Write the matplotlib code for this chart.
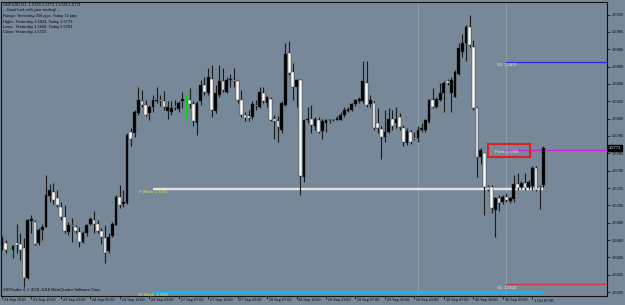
import numpy as np
import matplotlib
matplotlib.use('Agg')
import matplotlib.pyplot as plt
import matplotlib.transforms as mtransforms
from matplotlib.patches import Rectangle

# ---- data (GBPUSD H1 bars) ----
opens = [1.5658,1.5662,1.5655,1.5654,1.5662,1.5661,1.5656,1.5621,1.5687,1.5686,
         1.5662,1.5677,1.5680,1.5716,1.5720,1.5714,1.5703,1.5692,1.5674,1.5682,
         1.5680,1.5674,1.5663,1.5673,1.5684,1.5688,1.5684,1.5676,1.5667,1.5652,
         1.5670,1.5682,1.5715,1.5707,1.5708,1.5790,1.5788,1.5811,1.5825,1.5821,
         1.5812,1.5819,1.5825,1.5827,1.5825,1.5814,1.5813,1.5820,1.5816,1.5825,
         1.5828,1.5827,1.5822,1.5800,1.5825,1.5844,1.5834,1.5851,1.5814,1.5832,
         1.5848,1.5836,1.5849,1.5850,1.5848,1.5826,1.5809,1.5808,1.5807,1.5821,
         1.5818,1.5835,1.5823,1.5828,1.5805,1.5802,1.5792,1.5821,1.5881,1.5859,
         1.5842,1.5849,1.5738,1.5803,1.5805,1.5797,1.5803,1.5791,1.5800,1.5803,
         1.5804,1.5803,1.5804,1.5809,1.5814,1.5815,1.5822,1.5825,1.5825,1.5846,
         1.5822,1.5823,1.5800,1.5793,1.5784,1.5790,1.5805,1.5800,1.5807,1.5794,
         1.5777,1.5790,1.5783,1.5783,1.5792,1.5792,1.5801,1.5826,1.5819,1.5826,
         1.5834,1.5848,1.5834,1.5830,1.5857,1.5882,1.5892,1.5911,1.5888,1.5817,
         1.5761,1.5765,1.5726,1.5726,1.5700,1.5713,1.5709,1.5715,1.5710,1.5712,
         1.5730,1.5726,1.5731,1.5726,1.5727,1.5748,1.5726,1.5728]
highs = [1.5670,1.5665,1.5657,1.5659,1.5684,1.5673,1.5667,1.5689,1.5694,1.5688,
         1.5679,1.5684,1.5740,1.5730,1.5731,1.5723,1.5709,1.5705,1.5686,1.5690,
         1.5682,1.5680,1.5676,1.5684,1.5692,1.5698,1.5688,1.5679,1.5682,1.5673,
         1.5686,1.5717,1.5729,1.5723,1.5788,1.5794,1.5815,1.5842,1.5838,1.5826,
         1.5821,1.5832,1.5842,1.5832,1.5837,1.5825,1.5825,1.5826,1.5825,1.5836,
         1.5833,1.5840,1.5825,1.5825,1.5849,1.5853,1.5863,1.5867,1.5844,1.5867,
         1.5863,1.5853,1.5857,1.5863,1.5849,1.5838,1.5813,1.5815,1.5825,1.5826,
         1.5842,1.5842,1.5831,1.5830,1.5809,1.5808,1.5825,1.5892,1.5894,1.5869,
         1.5851,1.5851,1.5804,1.5819,1.5821,1.5807,1.5807,1.5805,1.5805,1.5805,
         1.5805,1.5808,1.5813,1.5818,1.5818,1.5823,1.5828,1.5830,1.5872,1.5872,
         1.5832,1.5825,1.5817,1.5796,1.5815,1.5817,1.5815,1.5819,1.5811,1.5798,
         1.5794,1.5792,1.5790,1.5796,1.5800,1.5805,1.5828,1.5840,1.5830,1.5846,
         1.5848,1.5851,1.5853,1.5861,1.5892,1.5903,1.5913,1.5924,1.5896,1.5819,
         1.5771,1.5763,1.5728,1.5728,1.5715,1.5717,1.5717,1.5719,1.5715,1.5740,
         1.5742,1.5733,1.5742,1.5734,1.5750,1.5750,1.5728,1.5773]
lows = [1.5654,1.5650,1.5650,1.5644,1.5650,1.5642,1.5611,1.5620,1.5673,1.5659,
        1.5659,1.5665,1.5680,1.5709,1.5707,1.5703,1.5688,1.5673,1.5671,1.5663,
        1.5673,1.5657,1.5662,1.5670,1.5682,1.5673,1.5673,1.5661,1.5639,1.5650,
        1.5669,1.5682,1.5702,1.5703,1.5707,1.5773,1.5784,1.5809,1.5819,1.5808,
        1.5803,1.5813,1.5823,1.5820,1.5815,1.5805,1.5809,1.5815,1.5813,1.5817,
        1.5804,1.5817,1.5796,1.5786,1.5821,1.5832,1.5832,1.5807,1.5811,1.5830,
        1.5836,1.5834,1.5842,1.5842,1.5823,1.5807,1.5802,1.5802,1.5805,1.5815,
        1.5817,1.5823,1.5818,1.5802,1.5782,1.5778,1.5788,1.5820,1.5855,1.5826,
        1.5819,1.5717,1.5732,1.5800,1.5788,1.5792,1.5788,1.5781,1.5790,1.5800,
        1.5802,1.5803,1.5803,1.5807,1.5813,1.5814,1.5820,1.5823,1.5823,1.5819,
        1.5819,1.5792,1.5788,1.5759,1.5778,1.5788,1.5792,1.5794,1.5792,1.5773,
        1.5775,1.5776,1.5780,1.5778,1.5790,1.5790,1.5800,1.5817,1.5817,1.5825,
        1.5813,1.5844,1.5813,1.5830,1.5855,1.5876,1.5871,1.5888,1.5815,1.5738,
        1.5753,1.5694,1.5721,1.5696,1.5668,1.5698,1.5707,1.5709,1.5708,1.5709,
        1.5723,1.5724,1.5723,1.5724,1.5723,1.5721,1.5701,1.5726]
closes = [1.5667,1.5653,1.5653,1.5658,1.5659,1.5654,1.5621,1.5688,1.5689,1.5661,
          1.5677,1.5680,1.5717,1.5723,1.5711,1.5705,1.5692,1.5675,1.5682,1.5681,
          1.5675,1.5663,1.5673,1.5682,1.5689,1.5684,1.5675,1.5668,1.5650,1.5669,
          1.5684,1.5715,1.5705,1.5709,1.5786,1.5782,1.5813,1.5826,1.5821,1.5809,
          1.5819,1.5826,1.5826,1.5825,1.5818,1.5818,1.5817,1.5818,1.5823,1.5828,
          1.5827,1.5822,1.5802,1.5823,1.5844,1.5836,1.5853,1.5815,1.5834,1.5848,
          1.5838,1.5849,1.5851,1.5848,1.5826,1.5809,1.5806,1.5806,1.5822,1.5820,
          1.5836,1.5825,1.5830,1.5803,1.5802,1.5795,1.5823,1.5880,1.5858,1.5842,
          1.5849,1.5739,1.5803,1.5805,1.5798,1.5805,1.5790,1.5802,1.5804,1.5804,
          1.5803,1.5806,1.5809,1.5815,1.5816,1.5822,1.5826,1.5828,1.5848,1.5821,
          1.5826,1.5794,1.5794,1.5784,1.5790,1.5805,1.5796,1.5805,1.5795,1.5778,
          1.5791,1.5778,1.5781,1.5792,1.5794,1.5803,1.5826,1.5819,1.5828,1.5834,
          1.5846,1.5846,1.5849,1.5859,1.5886,1.5892,1.5911,1.5890,1.5817,1.5761,
          1.5769,1.5726,1.5723,1.5702,1.5713,1.5708,1.5715,1.5711,1.5713,1.5730,
          1.5725,1.5731,1.5725,1.5732,1.5748,1.5723,1.5725,1.5771]
green_bars = [2, 50]

xtick_labels = ["23 Sep 2010", "23 Sep 13:00", "23 Sep 21:00", "24 Sep 05:00",
                "24 Sep 13:00", "24 Sep 21:00", "27 Sep 07:00", "27 Sep 15:00",
                "27 Sep 23:00", "28 Sep 07:00", "28 Sep 15:00", "28 Sep 23:00",
                "29 Sep 07:00", "29 Sep 15:00", "29 Sep 23:00", "30 Sep 07:00",
                "30 Sep 15:00", "30 Sep 23:00", "1 Oct 07:00"]
xtick_step = 8
ytick_values = [1.5605, 1.5625, 1.5645, 1.5665, 1.5685, 1.5705, 1.5725, 1.5745,
                1.5765, 1.5785, 1.5805, 1.5825, 1.5845, 1.5865, 1.5885, 1.5905, 1.5925]
day_separators = [113, 137]
week_start = 41
day_start = 137

pivot = 1.5769
r1 = 1.5870
s1 = 1.5614
p_week = 1.5724
s1_week = 1.5605
last_price = 1.5771

info_lines = ["GBPUSD,H1  1.5728 1.5773 1.5726 1.5771",
              "-- Good luck with your trading! --",
              "Range: Yesterday 256 pips, Today 72 pips",
              "Highs: Yesterday 1.5924, Today 1.5773",
              "Lows:  Yesterday 1.5668, Today 1.5701",
              "Close: Yesterday 1.5715"]
footer = "SIGTrader 4, \u00a9 2001-2010 MetaQuotes Software Corp."

# ---- style ----
BG = '#778899'
FONT = 'Liberation Sans'
FS = 2.9
FSX = 2.7
TXT = '#050505'
plt.rcParams['font.family'] = [FONT, 'DejaVu Sans']

W, H = 625, 305
fig = plt.figure(figsize=(W / 100, H / 100), dpi=100, facecolor=BG)
ax = fig.add_axes([1 / W, 9 / H, 606 / W, 294 / H])
ax.set_facecolor(BG)

n = len(opens)
x = np.arange(n)
o = np.array(opens); c = np.array(closes)
hi = np.array(highs); lo = np.array(lows)

xmax = 164.3
ax.set_xlim(-0.25, xmax)
ax.set_ylim(1.56005, 1.59395)

# day separators
for d in day_separators:
    ax.axvline(d, color='#b4bec8', lw=0.6, ls=(0, (1.5, 1.5)), zorder=1)

# candles
up = c >= o
wick_col = ['#00dd00' if i in green_bars else '#1a1a1a' for i in range(n)]
ax.vlines(x, lo, hi, colors=wick_col, lw=0.8, zorder=3)
bottoms = np.minimum(o, c)
heights = np.maximum(np.abs(c - o), 0.00009)
face = []
for i in range(n):
    if i in green_bars:
        face.append('#00dd00')
    elif up[i]:
        face.append('#000000')
    else:
        face.append('#ffffff')
edge = ['#00dd00' if i in green_bars else '#2a2a2a' for i in range(n)]
ax.bar(x, heights, bottom=bottoms, width=0.74, color=face, edgecolor=edge,
       linewidth=0.3, zorder=4)

# level lines
ax.plot([week_start, n - 1], [p_week, p_week], color='#e4e4e4', lw=1.7, zorder=2,
        solid_capstyle='butt')
ax.plot([week_start, n - 1], [s1_week, s1_week], color='#00bfff', lw=1.9, zorder=2,
        solid_capstyle='butt')
ax.plot([day_start, xmax], [r1, r1], color='#2828f0', lw=0.9, zorder=2)
ax.plot([day_start, xmax], [pivot, pivot], color='#d020d8', lw=0.9, zorder=2)
ax.plot([day_start, xmax], [s1, s1], color='#d03848', lw=0.9, zorder=2)

lbl = dict(ha='center', va='top', fontsize=FS, zorder=6)
ax.text(day_start, r1 - 0.00008, f"R1: {r1:.4f}", color='#e8e8e8', **lbl)
ax.text(day_start, pivot - 0.00004, f"Pivot: {pivot:.4f}", color='#e8e8e8', **lbl)
ax.text(day_start, s1 - 0.00018, f"S1: {s1:.4f}", color='#e8e8e8', **lbl)
ax.text(week_start, p_week - 0.00008, f"P Week: {p_week:.4f}", color='#e6e640', **lbl)
ax.text(week_start, s1_week - 0.00010, f"S1 Week: {s1_week:.4f}", color='#e6e640', **lbl)

# red box round pivot label
ax.add_patch(Rectangle((day_start - 5.0, pivot - 0.00080), 11.4, 0.00150,
                       fill=False, edgecolor='#e02020', lw=1.5, zorder=7))

# axes styling
for s in ax.spines.values():
    s.set_color('#111111')
    s.set_linewidth(0.8)

ax.yaxis.tick_right()
ax.set_yticks(ytick_values)
ax.set_yticklabels([f"{v:.4f}" for v in ytick_values])
ax.tick_params(axis='y', direction='out', length=2, width=0.5, pad=1.5,
               labelsize=FS, colors=TXT)

xticks = list(range(0, xtick_step * len(xtick_labels), xtick_step))
ax.set_xticks(xticks)
ax.set_xticklabels([])
ax.tick_params(axis='x', direction='out', length=2.5, width=0.5, colors=TXT)
trans = mtransforms.blended_transform_factory(ax.transData, fig.transFigure)
for t, s in zip(xticks, xtick_labels):
    ax.text(t + 0.5, 1 - 300.5 / H, s, transform=trans, ha='left', va='center',
            fontsize=FSX, color=TXT, clip_on=False)

# current price box on the axis
tr2 = mtransforms.blended_transform_factory(ax.transAxes, ax.transData)
ax.text(1.003, last_price, f"{last_price:.4f}", transform=tr2, ha='left', va='center',
        fontsize=FS, color='white', clip_on=False, zorder=8,
        bbox=dict(boxstyle='square,pad=0.3', fc='black', ec='black'))

# info text
for k, line in enumerate(info_lines):
    fig.text(3 / W, 1 - (5 + 5.5 * k) / H, line, ha='left', va='center',
             fontsize=FS, color=TXT)
fig.text(3 / W, 1 - 289.5 / H, footer, ha='left', va='center', fontsize=FS,
         color=TXT)

fig.savefig('out.png', dpi=100, facecolor=BG)
